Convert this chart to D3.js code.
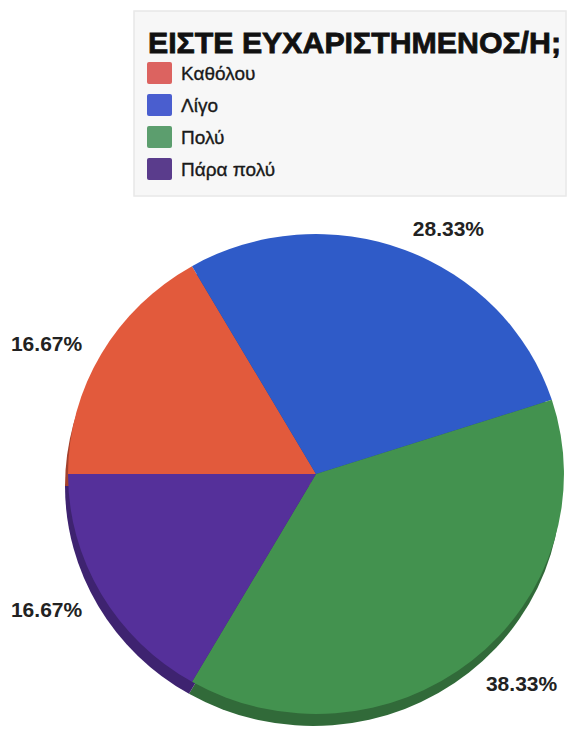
<!DOCTYPE html>
<html>
<head>
<meta charset="utf-8">
<script src="https://cdn.jsdelivr.net/npm/d3@7"></script>
<style>
  body { margin: 0; background: #fff; }
  svg { display: block; font-family: "Liberation Sans", Arial, sans-serif; }
</style>
</head>
<body>
<svg id="chart"></svg>
<script>
// data
const title = 'ΕΙΣΤΕ ΕΥΧΑΡΙΣΤΗΜΕΝΟΣ/Η;';
const categories = ['Καθόλου', 'Λίγο', 'Πολύ', 'Πάρα πολύ'];
const values = [16.67, 28.33, 38.33, 16.67];
const pieColors = ['#e25a3c', '#2f5bc8', '#43924f', '#55309a'];
const legendColors = ['#dc6360', '#4a5ecf', '#5c9e6e', '#5a3c8c'];

const width = 569, height = 730;
const cx = 316, cy = 474;
const rx = 248, ry = 240;
const labelR = 270;

let svg = d3.select('#chart')
  .attr('width', width)
  .attr('height', height);

// legend box
let legend = svg.append('g');
legend.append('rect')
  .attr('x', 134).attr('y', 11)
  .attr('width', 432).attr('height', 185)
  .attr('fill', '#f7f7f7')
  .attr('stroke', '#e8e8e8')
  .attr('stroke-width', 1.5);

legend.append('text')
  .attr('x', 148).attr('y', 53)
  .attr('font-size', 30)
  .attr('font-weight', 'bold')
  .attr('fill', '#111')
  .attr('stroke', '#111')
  .attr('stroke-width', 0.8)
  .attr('textLength', 413)
  .attr('lengthAdjust', 'spacingAndGlyphs')
  .text(title);

let rowY = d3.scalePoint().domain(categories).range([73, 169]);

legend.selectAll('rect.swatch')
  .data(categories)
  .join('rect')
  .attr('class', 'swatch')
  .attr('x', 147)
  .attr('y', d => rowY(d) - 11)
  .attr('width', 25).attr('height', 22)
  .attr('rx', 2)
  .attr('fill', (d, i) => legendColors[i]);

legend.selectAll('text.lbl')
  .data(categories)
  .join('text')
  .attr('class', 'lbl')
  .attr('x', 181)
  .attr('y', d => rowY(d) + 7)
  .attr('font-size', 19)
  .attr('fill', '#1a1a1a')
  .attr('stroke', '#1a1a1a')
  .attr('stroke-width', 0.35)
  .text(d => d);

// pie, starting at 9 o'clock going clockwise
let pie = d3.pie().sort(null)
  .startAngle(-Math.PI / 2)
  .endAngle(1.5 * Math.PI);
let arcs = pie(values);
let arc = d3.arc().innerRadius(0).outerRadius(1);

// 3d side (darker, shifted down)
svg.append('g')
  .attr('transform', `translate(${cx - 3}, ${cy + 12}) scale(${rx}, ${ry})`)
  .selectAll('path')
  .data(arcs)
  .join('path')
  .attr('d', arc)
  .attr('fill', (d, i) => d3.color(pieColors[i]).darker(0.9));

svg.append('g')
  .attr('transform', `translate(${cx}, ${cy}) scale(${rx}, ${ry})`)
  .selectAll('path')
  .data(arcs)
  .join('path')
  .attr('d', arc)
  .attr('fill', (d, i) => pieColors[i]);

// percentage labels outside
let mid = d => (d.startAngle + d.endAngle) / 2;
svg.selectAll('text.pct')
  .data(arcs)
  .join('text')
  .attr('class', 'pct')
  .attr('x', d => cx + labelR * Math.sin(mid(d)))
  .attr('y', d => cy - 266 * Math.cos(mid(d)) + 10)
  .attr('text-anchor', d => Math.sin(mid(d)) < 0 ? 'end' : 'start')
  .attr('font-size', 21)
  .attr('font-weight', 'bold')
  .attr('fill', '#222')
  .text(d => d.value.toFixed(2) + '%');
</script>
</body>
</html>
